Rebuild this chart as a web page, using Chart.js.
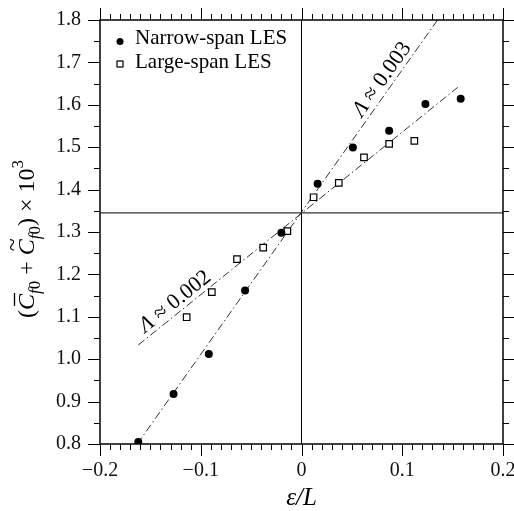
<!DOCTYPE html>
<html>
<head>
<meta charset="utf-8">
<script src="https://cdn.jsdelivr.net/npm/chart.js@4.4.0/dist/chart.umd.min.js"></script>
<style>
  body { margin: 0; background: #fff; }
  canvas { display: block; }
</style>
</head>
<body>
<canvas id="cf" width="514" height="511"></canvas>
<script>
// data
var narrowX = [-0.162, -0.127, -0.092, -0.056, -0.020, 0.016, 0.051, 0.087, 0.123, 0.158];
var narrowY = [0.805, 0.918, 1.012, 1.162, 1.298, 1.414, 1.499, 1.539, 1.602, 1.614];
var largeX = [-0.114, -0.089, -0.064, -0.038, -0.014, 0.012, 0.037, 0.062, 0.087, 0.112];
var largeY = [1.099, 1.158, 1.236, 1.263, 1.302, 1.382, 1.416, 1.476, 1.508, 1.515];

// dash-dot fit lines (end points)
var steepX = [-0.163, 0.135];
var steepY = [0.80, 1.80];
var shallowX = [-0.162, 0.155];
var shallowY = [1.0335, 1.641];

// cross lines
var crossY = 1.345;
var crossX = 0;

var legendLabels = ['Narrow-span LES', 'Large-span LES'];
var noteText = ['0.003', '0.002'];
var notePosX = [0.0800, -0.1255];
var notePosY = [1.660, 1.1356];

var xTicks = [-0.2, -0.1, 0, 0.1, 0.2];
var yTicks = [0.8, 0.9, 1.0, 1.1, 1.2, 1.3, 1.4, 1.5, 1.6, 1.7, 1.8];

var SERIF = '"Liberation Serif", "DejaVu Serif", serif';

function pts(xs, ys) {
    let out = [];
    for (let i = 0; i < xs.length; i++) {
        out.push({ x: xs[i], y: ys[i] });
    }
    return out;
}

function fmtX(v) {
    v = Math.round(v * 10) / 10;
    if (v === 0) return '0';
    return (v < 0 ? '\u2212' : '') + Math.abs(v).toString();
}

var dashDot = [8, 3, 1.5, 3];

var framePlugin = {
    id: 'frame',
    afterDraw: function(chart) {
        const ctx = chart.ctx;
        const a = chart.chartArea;
        const xs = chart.scales.x;
        const ys = chart.scales.y;
        ctx.save();
        ctx.strokeStyle = '#000';

        // ticks, outward on all four sides
        ctx.lineWidth = 1;
        ctx.beginPath();
        for (let i = -20; i <= 20; i++) {
            let px = Math.round(xs.getPixelForValue(i / 100)) + 0.5;
            let len = (i % 10 === 0) ? 12 : 6;
            ctx.moveTo(px, a.bottom); ctx.lineTo(px, a.bottom + len);
            ctx.moveTo(px, a.top); ctx.lineTo(px, a.top - len);
        }
        for (let i = 0; i <= 20; i++) {
            let py = Math.round(ys.getPixelForValue(0.8 + i * 0.05)) + 0.5;
            let len = (i % 2 === 0) ? 12 : 6;
            ctx.moveTo(a.left - len, py); ctx.lineTo(a.left, py);
            ctx.moveTo(a.right, py); ctx.lineTo(a.right + len, py);
        }
        ctx.stroke();

        ctx.lineWidth = 1.5;
        ctx.strokeRect(a.left, a.top, a.right - a.left, a.bottom - a.top);

        // legend
        ctx.fillStyle = '#000';
        ctx.beginPath();
        ctx.arc(120, 41.5, 3.5, 0, Math.PI * 2);
        ctx.fill();
        ctx.lineWidth = 1.2;
        ctx.fillStyle = '#fff';
        ctx.fillRect(117, 61, 6, 6);
        ctx.strokeRect(117, 61, 6, 6);
        ctx.fillStyle = '#000';
        ctx.font = '21px ' + SERIF;
        ctx.textBaseline = 'alphabetic';
        ctx.textAlign = 'left';
        ctx.fillText(legendLabels[0], 135, 44);
        ctx.fillText(legendLabels[1], 135, 68);

        // slope notes
        let lines = [[steepX, steepY], [shallowX, shallowY]];
        for (let k = 0; k < 2; k++) {
            let lx = lines[k][0], ly = lines[k][1];
            let dx = xs.getPixelForValue(lx[1]) - xs.getPixelForValue(lx[0]);
            let dy = ys.getPixelForValue(ly[1]) - ys.getPixelForValue(ly[0]);
            let ang = Math.atan2(dy, dx);
            let cx = xs.getPixelForValue(notePosX[k]);
            let cy = ys.getPixelForValue(notePosY[k]);
            ctx.save();
            ctx.translate(cx, cy);
            ctx.rotate(ang);
            ctx.textBaseline = 'middle';
            ctx.font = 'italic 22px ' + SERIF;
            let w1 = ctx.measureText('\u039B').width;
            ctx.font = '22px ' + SERIF;
            let rest = ' \u2248 ' + noteText[k];
            let w2 = ctx.measureText(rest).width;
            let x0 = -(w1 + w2) / 2;
            ctx.font = 'italic 22px ' + SERIF;
            ctx.fillText('\u039B', x0, 0);
            ctx.font = '22px ' + SERIF;
            ctx.fillText(rest, x0 + w1, 0);
            ctx.restore();
        }

        // x title
        ctx.font = 'italic 25px ' + SERIF;
        ctx.textAlign = 'center';
        ctx.textBaseline = 'middle';
        ctx.fillText('\u03B5/L', xs.getPixelForValue(0), 498);

        // y title
        drawYTitle(ctx, 34, 239);
        ctx.restore();
    }
};

function drawYTitle(ctx, bx, cy) {
    const F = 24, S = 17;
    const up = F + 'px ' + SERIF, it = 'italic ' + F + 'px ' + SERIF;
    const sup = S + 'px ' + SERIF, sit = 'italic ' + S + 'px ' + SERIF;
    // pieces: text, font, baseline shift, accent
    let parts = [
        ['(', up, 0, null],
        ['C', it, 0, 'bar'],
        ['f', sit, 6, null],
        ['0', sup, 6, null],
        [' + ', up, 0, null],
        ['C', it, 0, 'tilde'],
        ['f', sit, 6, null],
        ['0', sup, 6, null],
        [')', up, 0, null],
        [' \u00D7 10', up, 0, null],
        ['3', sup, -11, null]
    ];
    ctx.save();
    ctx.translate(bx, cy);
    ctx.rotate(-Math.PI / 2);
    ctx.textAlign = 'left';
    ctx.textBaseline = 'alphabetic';
    let total = 0;
    let widths = [];
    for (let p of parts) {
        ctx.font = p[1];
        let w = ctx.measureText(p[0]).width;
        widths.push(w);
        total += w;
    }
    let u = -total / 2;
    for (let i = 0; i < parts.length; i++) {
        let p = parts[i];
        ctx.font = p[1];
        ctx.fillText(p[0], u, p[2]);
        if (p[3] === 'bar') {
            ctx.lineWidth = 1.3;
            ctx.beginPath();
            ctx.moveTo(u + 4, -19.5);
            ctx.lineTo(u + widths[i] + 1, -19.5);
            ctx.stroke();
        } else if (p[3] === 'tilde') {
            ctx.font = F + 'px ' + SERIF;
            ctx.textAlign = 'center';
            ctx.fillText('~', u + widths[i] / 2 + 2.5, -14);
            ctx.textAlign = 'left';
        }
        u += widths[i];
    }
    ctx.restore();
}

var ctx = document.getElementById('cf').getContext('2d');
new Chart(ctx, {
    type: 'scatter',
    data: {
        datasets: [
            {
                label: legendLabels[0],
                data: pts(narrowX, narrowY),
                pointStyle: 'circle',
                pointRadius: 4,
                backgroundColor: '#000',
                borderColor: '#000',
                borderWidth: 0
            },
            {
                label: legendLabels[1],
                data: pts(largeX, largeY),
                pointStyle: 'rect',
                pointRadius: 4.6,
                backgroundColor: '#fff',
                borderColor: '#000',
                borderWidth: 1.2
            },
            {
                data: pts(steepX, steepY),
                showLine: true,
                pointRadius: 0,
                borderColor: '#333',
                borderWidth: 1,
                borderDash: dashDot
            },
            {
                data: pts(shallowX, shallowY),
                showLine: true,
                pointRadius: 0,
                borderColor: '#333',
                borderWidth: 1,
                borderDash: dashDot
            },
            {
                data: pts([-0.2, 0.2], [crossY, crossY]),
                showLine: true,
                pointRadius: 0,
                borderColor: '#000',
                borderWidth: 1
            },
            {
                data: pts([crossX, crossX], [0.8, 1.8]),
                showLine: true,
                pointRadius: 0,
                borderColor: '#000',
                borderWidth: 1
            }
        ]
    },
    options: {
        responsive: false,
        animation: false,
        devicePixelRatio: 1,
        layout: { padding: { top: 20, right: 11, left: 0, bottom: 0 } },
        plugins: {
            legend: { display: false },
            tooltip: { enabled: false }
        },
        scales: {
            x: {
                type: 'linear',
                min: -0.2,
                max: 0.2,
                afterBuildTicks: function(s) { s.ticks = xTicks.map(function(v) { return { value: v }; }); },
                afterFit: function(s) { s.height = 67; s.paddingLeft = 0; s.paddingRight = 0; },
                grid: { display: false, drawTicks: false },
                border: { display: false },
                ticks: {
                    autoSkip: false,
                    maxRotation: 0,
                    padding: 15,
                    color: '#111',
                    font: { family: SERIF, size: 20 },
                    callback: function(v) { return fmtX(v); }
                }
            },
            y: {
                type: 'linear',
                min: 0.8,
                max: 1.8,
                afterBuildTicks: function(s) { s.ticks = yTicks.map(function(v) { return { value: v }; }); },
                afterFit: function(s) { s.width = 100; s.paddingTop = 0; s.paddingBottom = 0; },
                grid: { display: false, drawTicks: false },
                border: { display: false },
                ticks: {
                    autoSkip: false,
                    padding: 19,
                    color: '#111',
                    font: { family: SERIF, size: 20 },
                    callback: function(v) { return v.toFixed(1); }
                }
            }
        }
    },
    plugins: [framePlugin]
});
</script>
</body>
</html>
